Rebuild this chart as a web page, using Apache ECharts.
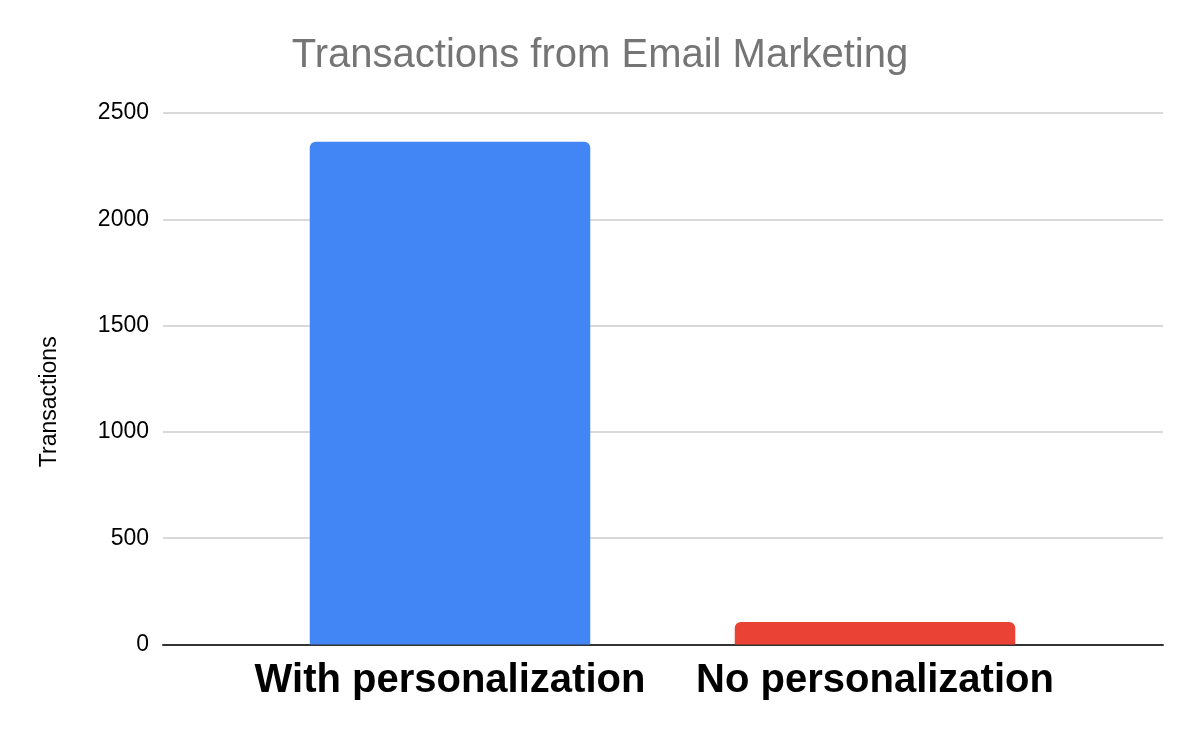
<!DOCTYPE html>
<html>
<head>
<meta charset="utf-8">
<script src="https://cdn.jsdelivr.net/npm/echarts@6/dist/echarts.min.js"></script>
<style>html,body{margin:0;padding:0;background:#fff;}#c{width:1200px;height:742px;}</style>
</head>
<body>
<div id="c"></div>
<script>
const categories = ["With personalization", "No personalization"];
const transactions = [2365, 106];
const barColors = ["#4285F4", "#EA4335"];
const yTicks = [0, 500, 1000, 1500, 2000, 2500];

const FONT = 'Liberation Sans, Arial, sans-serif';
const yMin = yTicks[0], yMax = yTicks[yTicks.length - 1];

const chart = echarts.init(document.getElementById('c'));
chart.setOption({
  animation: false,
  backgroundColor: '#ffffff',
  textStyle: { fontFamily: FONT },
  title: {
    text: 'Transactions from Email Marketing',
    left: 'center',
    top: 31,
    textStyle: { fontSize: 40, fontWeight: 'normal', color: '#757575', fontFamily: FONT }
  },
  grid: [
    { left: 163, right: 37, top: 113, bottom: 97.5, containLabel: false },
    { left: 237.5, right: 112.5, top: 113, bottom: 97.5, containLabel: false }
  ],
  xAxis: [
    {
      type: 'category', gridIndex: 0, data: categories,
      axisLine: { show: true, lineStyle: { color: '#333333', width: 2 } },
      axisTick: { show: false },
      axisLabel: { show: false }
    },
    {
      type: 'category', gridIndex: 1, data: categories,
      axisLine: { show: false },
      axisTick: { show: false },
      axisLabel: { interval: 0, fontSize: 40, fontWeight: 'bold', color: '#000000', margin: 16, fontFamily: FONT }
    }
  ],
  yAxis: [
    {
      type: 'value', gridIndex: 0,
      min: yMin, max: yMax, interval: 500,
      name: 'Transactions',
      nameLocation: 'middle',
      nameGap: 102,
      nameRotate: 90,
      nameTextStyle: { fontSize: 23, color: '#000000', padding: [0, 46, 0, 0], fontFamily: FONT },
      axisLine: { show: false },
      axisTick: { show: false },
      axisLabel: { fontSize: 23, color: '#000000', margin: 14, fontFamily: FONT, formatter: v => String(v) },
      splitLine: { lineStyle: { color: '#cccccc', width: 1.5 } }
    },
    {
      type: 'value', gridIndex: 1,
      min: yMin, max: yMax, interval: 500,
      axisLine: { show: false },
      axisTick: { show: false },
      axisLabel: { show: false },
      splitLine: { show: false }
    }
  ],
  series: [{
    type: 'bar',
    xAxisIndex: 1,
    yAxisIndex: 1,
    barWidth: '66%',
    data: transactions.map((v, i) => ({ value: v, itemStyle: { color: barColors[i] } })),
    itemStyle: { borderRadius: [6, 6, 0, 0] }
  }]
});
</script>
</body>
</html>
